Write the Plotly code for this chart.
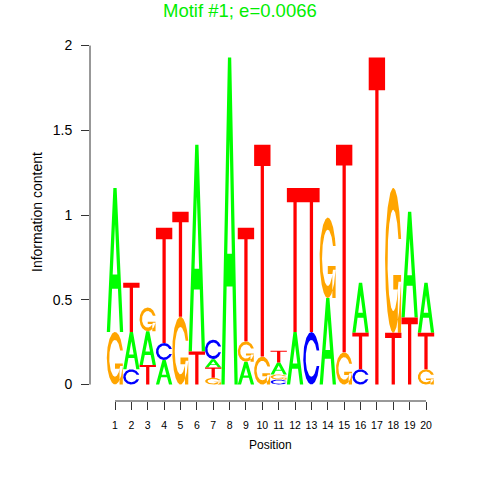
import numpy as np
import plotly.graph_objects as go

# ---------------- data ----------------
positions = list(range(1, 21))
tick_labels = [str(p) for p in positions]
# stacking order of letters, bottom to top, for each position
stack_order = ["GA", "CAT", "TAG", "ACT", "GT", "TA", "GTAC", "A", "AGT", "GT",
               "CGAT", "AT", "CT", "AG", "GT", "CTA", "T", "TG", "TA", "GTA"]
# letter heights (bits)
bits_A = [0.85, 0.22, 0.20, 0.145, 0, 1.22, 0.05, 1.93, 0.135, 0,
          0.07, 0.31, 0, 0.51, 0, 0.295, 0, 0, 0.625, 0.295]
bits_C = [0, 0.09, 0, 0.10, 0, 0, 0.115, 0, 0, 0,
          0.03, 0, 0.31, 0, 0, 0.09, 0, 0, 0, 0]
bits_G = [0.31, 0, 0.14, 0, 0.40, 0, 0.04, 0, 0.12, 0.165,
          0.03, 0, 0, 0.475, 0.19, 0, 0, 0.855, 0, 0.09]
bits_T = [0, 0.29, 0.115, 0.68, 0.62, 0.195, 0.06, 0, 0.67, 1.25,
          0.07, 0.85, 0.85, 0, 1.225, 0.215, 1.93, 0.305, 0.395, 0.215]
y_ticks = [0, 0.5, 1, 1.5, 2]
y_tick_labels = ["0", "0.5", "1", "1.5", "2"]
title_text = "Motif #1; e=0.0066"

colors = {"A": "#00FF00", "C": "#0000FF", "G": "#FFA500", "T": "#FF0000"}
bits = {"A": bits_A, "C": bits_C, "G": bits_G, "T": bits_T}


# ---------------- glyph templates (unit box, seqLogo style) ----------------
def glyph_A():
    x = 0.1 * np.array([0, 4, 6, 10, 8, 6.8, 3.2, 2, 0])
    y = 0.1 * np.array([0, 10, 10, 0, 0, 3, 3, 0, 0])
    hx = 0.1 * np.array([3.6, 5, 6.4, 3.6])
    hy = 0.1 * np.array([4, 7.5, 4, 4])
    return [(x, y, "fill"), (hx, hy, "hole")]


def _c_outline():
    a1 = np.linspace(0.3 + np.pi / 2, np.pi, 100)
    a2 = np.linspace(np.pi, 1.5 * np.pi, 100)
    xl1 = 0.5 + 0.5 * np.sin(a1)
    yl1 = 0.5 + 0.5 * np.cos(a1)
    xl2 = 0.5 + 0.5 * np.sin(a2)
    yl2 = 0.5 + 0.5 * np.cos(a2)
    xl = np.concatenate([xl1, xl2])
    yl = np.concatenate([yl1, yl2])
    x = np.concatenate([xl, xl[::-1]])
    y = np.concatenate([yl, 1 - yl[::-1]])
    xi1 = 0.5 + 0.35 * np.sin(a1)
    yi1 = 0.5 + 0.35 * np.cos(a1)
    keep = yi1 <= yl1.max()
    xi1 = xi1[keep]
    yi1 = yi1[keep].copy()
    yi1[0] = yl1.max()
    xi2 = 0.5 + 0.35 * np.sin(a2)
    yi2 = 0.5 + 0.35 * np.cos(a2)
    xi = np.concatenate([xi1, xi2])
    yi = np.concatenate([yi1, yi2])
    x1 = np.concatenate([xi, xi[::-1]])
    y1 = np.concatenate([yi, 1 - yi[::-1]])
    x = np.concatenate([x, x1[::-1]])
    y = np.concatenate([y, y1[::-1]])
    return x, y, xl1.max()


def glyph_C():
    x, y, _ = _c_outline()
    return [(x, y, "fill")]


def glyph_G():
    x, y, r1 = _c_outline()
    h1 = 0.4
    xa = np.array([r1, 0.5, 0.5, r1 - 0.2, r1 - 0.2, r1, r1])
    ya = np.array([h1, h1, h1 - 0.1, h1 - 0.1, 0, 0, h1])
    return [(x, y, "fill"), (xa, ya, "fill")]


def glyph_T():
    x = 0.1 * np.array([0, 10, 10, 6, 6, 4, 4, 0, 0])
    y = 0.1 * np.array([10, 10, 9, 9, 0, 0, 9, 9, 10])
    return [(x, y, "fill")]


glyphs = {"A": glyph_A(), "C": glyph_C(), "G": glyph_G(), "T": glyph_T()}

# ---------------- build polygons ----------------
paths = {k: ([], []) for k in ["A", "C", "G", "T", "hole"]}
for i, pos in enumerate(positions):
    base = 0.0
    for letter in stack_order[i]:
        h = bits[letter][i]
        if h <= 0:
            continue
        for gx, gy, kind in glyphs[letter]:
            key = letter if kind == "fill" else "hole"
            xs, ys = paths[key]
            xs.extend(list(pos - 0.5 + gx) + [None])
            ys.extend(list(base + h * gy) + [None])
        base += h

fig = go.Figure()
for key in ["A", "C", "G", "T", "hole"]:
    xs, ys = paths[key]
    col = "#FFFFFF" if key == "hole" else colors[key]
    fig.add_trace(go.Scatter(x=xs, y=ys, mode="lines", fill="toself",
                             fillcolor=col, line=dict(width=0, color=col),
                             hoverinfo="skip", showlegend=False))

# ---------------- layout ----------------
L, R, T, B = 90, 29, 32, 79
W = H = 480
pw, ph = W - L - R, H - T - B
font = "Liberation Sans, Arial, Helvetica, sans-serif"
axcol = "#333333"


def px_x(p):
    return (p - L) / pw


def px_y(p):
    return (H - B - p) / ph


fig.update_layout(
    width=W, height=H,
    margin=dict(l=L, r=R, t=T, b=B, pad=0),
    paper_bgcolor="white", plot_bgcolor="white",
    font=dict(family=font, color="black"),
    xaxis=dict(range=[-0.527, 21.527], tickvals=positions, ticktext=tick_labels,
               ticks="outside", ticklen=8, tickcolor=axcol, tickwidth=1,
               tickfont=dict(size=10.5, family=font, color="black"),
               showgrid=False, zeroline=False, showline=False,
               ticklabelstandoff=6),
    yaxis=dict(range=[-0.097, 2.08], tickvals=y_ticks, ticktext=y_tick_labels,
               ticks="outside", ticklen=8, tickcolor=axcol, tickwidth=1,
               tickfont=dict(size=14, family=font, color="black"),
               showgrid=False, zeroline=False, showline=False,
               ticklabelstandoff=6),
    shapes=[
        dict(type="line", xref="x", yref="paper", x0=1, x1=20, y0=0, y1=0,
             line=dict(color=axcol, width=1)),
        dict(type="line", xref="paper", yref="y", x0=0, x1=0, y0=0, y1=2,
             line=dict(color=axcol, width=1)),
    ],
    annotations=[
        dict(text=title_text, xref="paper", yref="paper", x=px_x(240), y=px_y(10.5),
             xanchor="center", yanchor="middle", showarrow=False,
             font=dict(size=18.5, color="#00EE00", family=font)),
        dict(text="Information content", xref="paper", yref="paper",
             x=px_x(37), y=px_y(212), textangle=-90, xanchor="center",
             yanchor="middle", showarrow=False, font=dict(size=14, family=font)),
        dict(text="Position", xref="paper", yref="paper", x=px_x(270), y=px_y(445),
             xanchor="center", yanchor="middle", showarrow=False,
             font=dict(size=12, family=font)),
    ],
)

fig.write_html("out.html", config={"displayModeBar": False},
               post_script="document.body.style.margin='0';document.body.style.overflow='hidden';")
